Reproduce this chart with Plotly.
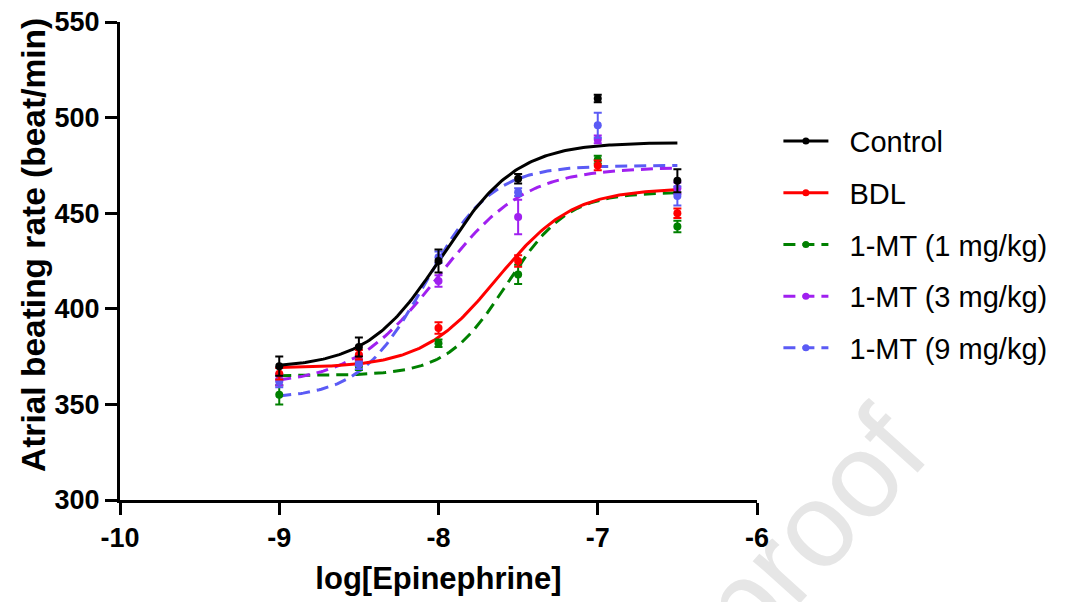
import numpy as np
import plotly.graph_objects as go

# ---- data ----
log_epi = [-9.0, -8.5, -8.0, -7.5, -7.0, -6.5]
series_names = ["Control", "BDL", "1-MT (1 mg/kg)", "1-MT (3 mg/kg)", "1-MT (9 mg/kg)"]

control_mean = [370, 380, 425, 468, 510, 467]
control_sem = [5, 5, 6, 2.5, 2, 6]
bdl_mean = [366, 376, 390, 425, 475, 450]
bdl_sem = [3, 2.5, 3, 3, 2.5, 2.5]
mt1_mean = [355, 370, 382, 418, 478, 443]
mt1_sem = [5, 2, 2, 5, 2, 3]
mt3_mean = [363, 373, 414.5, 448, 488.6, 463]
mt3_sem = [3, 2.5, 3, 9, 2, 3]
mt9_mean = [362, 371, 427, 461, 496, 459]
mt9_sem = [3, 2.5, 3, 2, 6.5, 5]

# fitted 4-parameter logistic curves (bottom, top, logEC50, hill)
fit_bottom = [369, 369, 365, 360, 353]
fit_top = [487, 463, 461, 474, 475]
fit_logec50 = [-7.975, -7.63, -7.57, -8.0, -8.08]
fit_hill = [1.85, 1.85, 2.3, 1.6, 2.1]

colors = ["#000000", "#ff0000", "#008000", "#a020f0", "#5b5bf5"]
dashes = ["solid", "solid", "12px,7px", "12px,7px", "12px,7px"]

means = [control_mean, bdl_mean, mt1_mean, mt3_mean, mt9_mean]
sems = [control_sem, bdl_sem, mt1_sem, mt3_sem, mt9_sem]

FONT = "Arial, Liberation Sans, sans-serif"
NBSP = "\u00a0"

# page body has an 8px margin; plot area spans x 120..757, y 22..500 on the page
PX0, PY0, PW, PH = 120, 22, 637, 478

fig = go.Figure()

xs = np.linspace(-9, -6.5, 200)
draw_order = [2, 3, 4, 1, 0]
for i in draw_order:
    ys = fit_bottom[i] + (fit_top[i] - fit_bottom[i]) / (1 + 10 ** ((fit_logec50[i] - xs) * fit_hill[i]))
    fig.add_trace(go.Scatter(
        x=xs, y=ys, mode="lines",
        line=dict(color=colors[i], width=3, dash=dashes[i]),
        showlegend=False, hoverinfo="skip"))
for i in draw_order:
    fig.add_trace(go.Scatter(
        x=log_epi, y=means[i], mode="markers",
        marker=dict(color=colors[i], size=8),
        error_y=dict(type="data", array=sems[i], color=colors[i], thickness=2, width=4),
        showlegend=False))

# legend entries
for i, name in enumerate(series_names):
    fig.add_trace(go.Scatter(
        x=[None], y=[None], mode="lines+markers", name=NBSP * 2 + name,
        line=dict(color=colors[i], width=3, dash=dashes[i]),
        marker=dict(color=colors[i], size=7),
        legendgroup=name, legendrank=i + 1))

# watermark (below everything)
wx = (802 - PX0) / PW
wy = (PY0 + PH - 522) / PH
fig.add_shape(type="rect", xref="paper", yref="paper",
              x0=wx - 0.01, x1=wx + 0.01, y0=wy - 0.01, y1=wy + 0.01,
              line=dict(width=0), fillcolor="rgba(0,0,0,0)", layer="below",
              label=dict(text="proof", textangle=-48, textposition="middle center",
                         font=dict(family=FONT, size=120, color="#e6e6e6")))

# y-axis title
fig.add_annotation(
    text="<b>Atrial beating rate (beat/min)</b>", xref="paper", yref="paper",
    x=(33 - PX0) / PW, y=(PY0 + PH - 245) / PH, xanchor="center", yanchor="middle",
    textangle=-90, showarrow=False, font=dict(family=FONT, size=33.5, color="black"))

fig.update_layout(
    width=1062, height=594,
    margin=dict(l=PX0 - 8, r=1070 - PX0 - PW, t=PY0 - 8, b=602 - PY0 - PH),
    paper_bgcolor="white", plot_bgcolor="white",
    font=dict(family=FONT, color="black"),
    legend=dict(x=1.0336, y=0.804, xanchor="left", yanchor="top",
                font=dict(family=FONT, size=29, color="black"),
                traceorder="grouped", tracegroupgap=11, itemwidth=45,
                bgcolor="rgba(0,0,0,0)"),
    xaxis=dict(range=[-10, -6], tickvals=[-10, -9, -8, -7, -6],
               ticktext=["-10", "-9", "-8", "-7", "-6"], automargin=False,
               ticklabeloverflow="allow",
               showline=True, linewidth=3, linecolor="black",
               ticks="outside", ticklen=12, tickwidth=3, tickcolor="black",
               showgrid=False, zeroline=False,
               tickfont=dict(family=FONT, size=27, color="black", weight="bold"),
               title=dict(text="<b>log[Epinephrine]</b>", standoff=15,
                          font=dict(family=FONT, size=31, color="black"))),
    yaxis=dict(range=[300, 550], tickvals=[300, 350, 400, 450, 500, 550],
               showline=True, linewidth=3, linecolor="black", automargin=False,
               ticklabeloverflow="allow",
               ticks="outside", ticklen=12, tickwidth=3, tickcolor="black",
               showgrid=False, zeroline=False,
               tickfont=dict(family=FONT, size=27, color="black", weight="bold")),
)

fig.write_html("out.html")
